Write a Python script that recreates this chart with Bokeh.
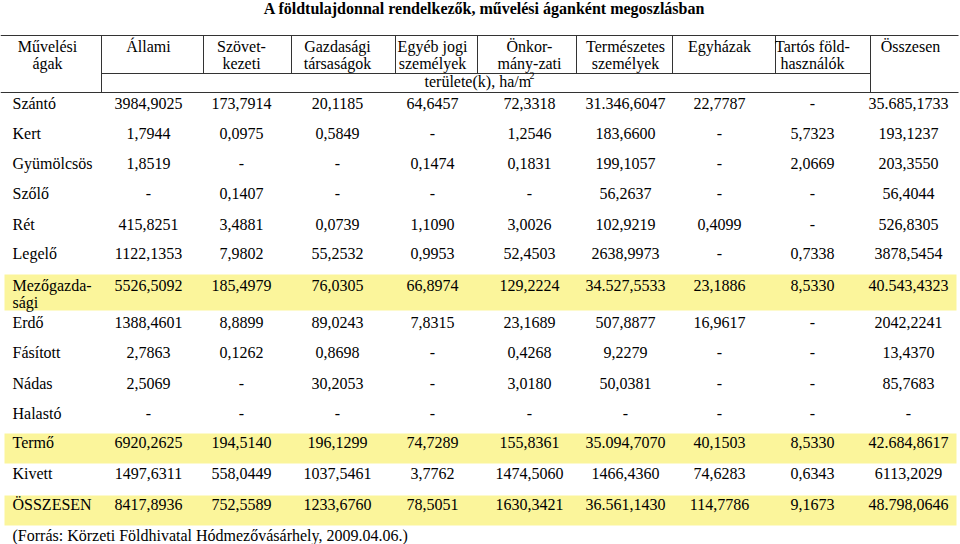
from bokeh.plotting import figure
from bokeh.models import Range1d
from bokeh.core.properties import value
from bokeh.embed import file_html
from bokeh.resources import INLINE

# ---------------- data ----------------
title = "A földtulajdonnal rendelkezők, művelési áganként megoszlásban"
first_header = "Művelési\nágak"
col_headers = ["Állami", "Szövet-\nkezeti", "Gazdasági\ntársaságok", "Egyéb jogi\nszemélyek",
               "Önkor-\nmány-zati", "Természetes\nszemélyek", "Egyházak", "Tartós föld-\nhasználók",
               "Összesen"]
unit_label = "területe(k), ha/m"
unit_sup = "2"
categories = ["Szántó", "Kert", "Gyümölcsös", "Szőlő", "Rét", "Legelő", "Mezőgazda-\nsági",
              "Erdő", "Fásított", "Nádas", "Halastó", "Termő", "Kivett", "ÖSSZESEN"]
highlighted = ["Mezőgazda-\nsági", "Termő", "ÖSSZESEN"]

allami = [3984.9025, 1.7944, 1.8519, None, 415.8251, 1122.1353, 5526.5092, 1388.4601, 2.7863, 2.5069, None, 6920.2625, 1497.6311, 8417.8936]
szovetkezeti = [173.7914, 0.0975, None, 0.1407, 3.4881, 7.9802, 185.4979, 8.8899, 0.1262, None, None, 194.5140, 558.0449, 752.5589]
gazdasagi = [20.1185, 0.5849, None, None, 0.0739, 55.2532, 76.0305, 89.0243, 0.8698, 30.2053, None, 196.1299, 1037.5461, 1233.6760]
egyeb_jogi = [64.6457, None, 0.1474, None, 1.1090, 0.9953, 66.8974, 7.8315, None, None, None, 74.7289, 3.7762, 78.5051]
onkormanyzati = [72.3318, 1.2546, 0.1831, None, 3.0026, 52.4503, 129.2224, 23.1689, 0.4268, 3.0180, None, 155.8361, 1474.5060, 1630.3421]
termeszetes = [31346.6047, 183.6600, 199.1057, 56.2637, 102.9219, 2638.9973, 34527.5533, 507.8877, 9.2279, 50.0381, None, 35094.7070, 1466.4360, 36561.1430]
egyhazak = [22.7787, None, None, None, 0.4099, None, 23.1886, 16.9617, None, None, None, 40.1503, 74.6283, 114.7786]
tartos = [None, 5.7323, 2.0669, None, None, 0.7338, 8.5330, None, None, None, None, 8.5330, 0.6343, 9.1673]
osszesen = [35685.1733, 193.1237, 203.3550, 56.4044, 526.8305, 3878.5454, 40543.4323, 2042.2241, 13.4370, 85.7683, None, 42684.8617, 6113.2029, 48798.0646]
series = [allami, szovetkezeti, gazdasagi, egyeb_jogi, onkormanyzati, termeszetes, egyhazak, tartos, osszesen]
source_note = "(Forrás: Körzeti Földhivatal Hódmezővásárhely, 2009.04.06.)"

# ---------------- layout (positions in reference pixel space) ----------------
col_centers = [148, 241, 337, 432, 529, 625, 719, 812, 908]
col_seps = [203, 291, 395, 477, 576, 672, 775]
row_y = [103, 133, 163, 193, 224, 253, 285, 322, 352, 383, 413, 442, 473, 504]
band_top_bottom = {"Mezőgazda-\nsági": (274, 310), "Termő": (433, 463), "ÖSSZESEN": (495, 525)}
line_h = 17
FONT = value("'Liberation Serif', 'Times New Roman', serif")
FS = "16px"


def fmt(v):
    if v is None:
        return "-"
    if v >= 10000:
        s = f"{v:,.4f}"
        return s.replace(",", "#").replace(".", ",").replace("#", ".")
    return f"{v:.4f}".replace(".", ",")


W, H = 960, 544
p = figure(width=W, height=H, output_backend="svg", toolbar_location=None,
           x_range=Range1d(0, W), y_range=Range1d(H, 0),
           min_border=0, outline_line_color=None)
p.axis.visible = False
p.grid.visible = False
p.background_fill_color = "white"
p.border_fill_color = "white"

# highlight bands
for cat in highlighted:
    t, b = band_top_bottom[cat]
    p.quad(left=4, right=956, top=t, bottom=b, fill_color="#FBF59B", line_color=None)

# header rules
hx0 = [0, 0, 101]
hx1 = [958, 958, 870]
hy = [35, 92, 73]
p.segment(x0=hx0, y0=hy, x1=hx1, y1=hy, line_color="#333333", line_width=1)
vx = [101, 870] + col_seps
vy0 = [35] * len(vx)
vy1 = [92, 92] + [73] * len(col_seps)
p.segment(x0=vx, y0=vy0, x1=vx, y1=vy1, line_color="#333333", line_width=1)

# title
p.text(x=[484], y=[8], text=[title], text_align="center", text_baseline="middle",
       text_font=FONT, text_font_size="16px", text_font_style="bold", text_color="black")

# header texts
hxs, hys, hts = [], [], []
for cx, h in zip([47] + col_centers, [first_header] + col_headers):
    for i, part in enumerate(h.split("\n")):
        hxs.append(cx if cx != 908 else 910)
        hys.append(46 + i * line_h)
        hts.append(part)
p.text(x=hxs, y=hys, text=hts, text_align="center", text_baseline="middle",
       text_font=FONT, text_font_size=FS, text_color="black")

p.text(x=[424], y=[81], text=[unit_label], text_align="left", text_baseline="middle",
       text_font=FONT, text_font_size=FS, text_color="black")
p.text(x=[529], y=[75], text=[unit_sup], text_align="left", text_baseline="middle",
       text_font=FONT, text_font_size="10px", text_color="black")

# row labels
lx, ly, lt = [], [], []
for y, cat in zip(row_y, categories):
    for i, part in enumerate(cat.split("\n")):
        lx.append(12)
        ly.append(y + i * line_h)
        lt.append(part)
p.text(x=lx, y=ly, text=lt, text_align="left", text_baseline="middle",
       text_font=FONT, text_font_size=FS, text_color="black")

# cell values
cx_, cy_, ct_ = [], [], []
for cx, ser in zip(col_centers, series):
    for y, v in zip(row_y, ser):
        cx_.append(cx)
        cy_.append(y)
        ct_.append(fmt(v))
p.text(x=cx_, y=cy_, text=ct_, text_align="center", text_baseline="middle",
       text_font=FONT, text_font_size=FS, text_color="black")

p.text(x=[12], y=[535], text=[source_note], text_align="left", text_baseline="middle",
       text_font=FONT, text_font_size=FS, text_color="black")

open("out.html", "w").write(file_html(p, INLINE))
